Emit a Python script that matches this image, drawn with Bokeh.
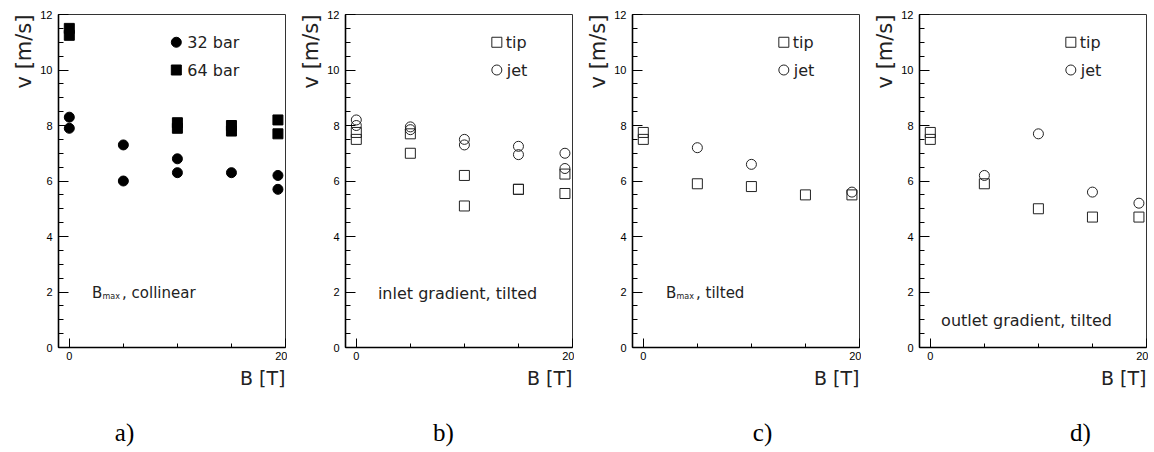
import math
from bokeh.plotting import figure
from bokeh.layouts import row, column
from bokeh.models import FixedTicker, Label, Range1d, Title
from bokeh.embed import file_html
from bokeh.resources import INLINE

# ---------------- data ----------------
# panel a) B_max, collinear
a_B_32 = [0, 0, 5, 5, 10, 10, 15, 19.3, 19.3]
a_v_32 = [8.3, 7.9, 7.3, 6.0, 6.8, 6.3, 6.3, 6.2, 5.7]
a_B_64 = [0, 0, 10, 10, 15, 15, 19.3, 19.3]
a_v_64 = [11.5, 11.25, 8.1, 7.9, 8.0, 7.8, 8.2, 7.7]

# panel b) inlet gradient, tilted
b_B_tip = [0, 0, 5, 5, 10, 10, 15, 15, 19.3, 19.3]
b_v_tip = [7.75, 7.5, 7.7, 7.0, 6.2, 5.1, 5.7, 5.7, 6.25, 5.55]
b_B_jet = [0, 0, 5, 5, 10, 10, 15, 15, 19.3, 19.3]
b_v_jet = [8.2, 8.0, 7.95, 7.85, 7.5, 7.3, 7.25, 6.95, 7.0, 6.45]

# panel c) B_max, tilted
c_B_tip = [0, 0, 5, 10, 15, 19.3]
c_v_tip = [7.75, 7.5, 5.9, 5.8, 5.5, 5.5]
c_B_jet = [5, 10, 19.3]
c_v_jet = [7.2, 6.6, 5.6]

# panel d) outlet gradient, tilted
d_B_tip = [0, 0, 5, 10, 15, 19.3]
d_v_tip = [7.75, 7.5, 5.9, 5.0, 4.7, 4.7]
d_B_jet = [5, 10, 15, 19.3]
d_v_jet = [6.2, 7.7, 5.6, 5.2]

x_major = [0, 20]
x_minor = [5, 10, 15]
y_major = [0, 2, 4, 6, 8, 10, 12]
y_minor = [i * 0.5 for i in range(25)]

panel_letters = ["a)", "b)", "c)", "d)"]
letter_centers = [124, 156, 188, 219]
y_title = "v [m/s]"
x_title = "B [T]"

SANS = "DejaVu Sans"
TICKF = "Liberation Sans"

W, H = 287, 410
LH = 42
BL, BR, BT, BB = 58, 2, 14, 63


def make_fig():
    p = figure(width=W, height=H, output_backend="svg", toolbar_location=None,
               x_range=Range1d(-1, 20), y_range=Range1d(0, 12),
               min_border_left=BL, min_border_right=BR,
               min_border_top=BT, min_border_bottom=BB)
    p.grid.visible = False
    p.background_fill_color = "white"
    p.border_fill_color = "white"
    p.outline_line_color = "#333333"
    p.outline_line_width = 1
    for ax in (p.xaxis[0], p.yaxis[0]):
        ax.axis_line_width = 1.6
        ax.axis_line_color = "black"
        ax.major_tick_line_color = "black"
        ax.minor_tick_line_color = "black"
        ax.major_tick_out = 0
        ax.minor_tick_out = 0
        ax.major_label_text_font = TICKF
        ax.major_label_text_font_size = "11px"
        ax.major_label_text_color = "black"
    p.xaxis[0].ticker = FixedTicker(ticks=x_major, minor_ticks=x_minor)
    p.yaxis[0].ticker = FixedTicker(ticks=y_major, minor_ticks=y_minor)
    p.xaxis[0].major_tick_in = 9
    p.xaxis[0].minor_tick_in = 4
    p.yaxis[0].major_tick_in = 10
    p.yaxis[0].minor_tick_in = 5
    p.xaxis[0].major_label_standoff = 4
    p.yaxis[0].major_label_standoff = 6

    # axis titles as side titles
    p.add_layout(Title(text=y_title, align="right", text_font=SANS,
                       text_font_size="21px", text_font_style="normal",
                       text_color="#222222", standoff=4), "left")
    p.add_layout(Title(text=x_title, align="right", text_font=SANS,
                       text_font_size="19px", text_font_style="normal",
                       text_color="#222222", standoff=5), "below")
    return p


def make_letter(letter, cx):
    q = figure(width=W, height=LH, output_backend="svg", toolbar_location=None,
               x_range=Range1d(0, W), y_range=Range1d(0, LH),
               x_axis_location=None, y_axis_location=None,
               min_border=0)
    q.grid.visible = False
    q.outline_line_color = None
    q.add_layout(Label(x=cx, y=20, text=letter, text_align="center",
                       text_baseline="alphabetic",
                       text_font="Liberation Serif", text_font_size="25px",
                       text_color="black"))
    return q


def add_bmax(p, x, y, rest):
    p.add_layout(Label(x=x, y=y, text="B", text_font=SANS, text_font_size="15px",
                       text_baseline="alphabetic", text_color="#222222"))
    p.add_layout(Label(x=x, y=y, x_offset=10.5, y_offset=-3, text="max",
                       text_font=SANS, text_font_size="8px",
                       text_baseline="alphabetic", text_color="#222222"))
    p.add_layout(Label(x=x, y=y, x_offset=30, text=rest, text_font=SANS,
                       text_font_size="15px", text_baseline="alphabetic",
                       text_color="#222222"))


def add_text(p, x, y, txt, size="15px"):
    p.add_layout(Label(x=x, y=y, text=txt, text_font=SANS, text_font_size=size,
                       text_baseline="alphabetic", text_color="#222222"))


def legend_entry(p, x, y, marker, filled, txt, gap):
    if filled:
        p.scatter([x], [y], marker=marker, size=10, fill_color="black",
                  line_color="black")
    else:
        p.scatter([x], [y], marker=marker, size=10, fill_color=None,
                  line_color="#222222", line_width=1)
    p.add_layout(Label(x=x, y=y, x_offset=gap, text=txt, text_font=SANS,
                       text_font_size="16px", text_baseline="middle",
                       text_color="#222222"))


def open_points(p, xs, ys, marker):
    p.scatter(xs, ys, marker=marker, size=10, fill_color=None,
              line_color="#222222", line_width=1)


# ---- panel a ----
pa = make_fig()
pa.scatter(a_B_32, a_v_32, marker="circle", size=10, fill_color="black",
           line_color="black")
pa.scatter(a_B_64, a_v_64, marker="square", size=10, fill_color="black",
           line_color="black")
legend_entry(pa, 9.9, 11, "circle", True, "32 bar", 11)
legend_entry(pa, 9.9, 10, "square", True, "64 bar", 11)
add_bmax(pa, 2.1, 1.96, ", collinear")

# ---- panel b ----
pb = make_fig()
open_points(pb, b_B_tip, b_v_tip, "square")
open_points(pb, b_B_jet, b_v_jet, "circle")
legend_entry(pb, 13, 11, "square", False, "tip", 9)
legend_entry(pb, 13, 10, "circle", False, "jet", 10)
add_text(pb, 2.0, 1.96, "inlet gradient, tilted", "16px")

# ---- panel c ----
pc = make_fig()
open_points(pc, c_B_tip, c_v_tip, "square")
open_points(pc, c_B_jet, c_v_jet, "circle")
legend_entry(pc, 13, 11, "square", False, "tip", 9)
legend_entry(pc, 13, 10, "circle", False, "jet", 10)
add_bmax(pc, 2.1, 1.96, ", tilted")

# ---- panel d ----
pd_ = make_fig()
open_points(pd_, d_B_tip, d_v_tip, "square")
open_points(pd_, d_B_jet, d_v_jet, "circle")
legend_entry(pd_, 13, 11, "square", False, "tip", 9)
legend_entry(pd_, 13, 10, "circle", False, "jet", 10)
add_text(pd_, 1.0, 0.97, "outlet gradient, tilted", "16px")

letters = [make_letter(t, c) for t, c in zip(panel_letters, letter_centers)]

layout = column(row(pa, pb, pc, pd_), row(*letters))
open("out.html", "w").write(file_html(layout, INLINE))
